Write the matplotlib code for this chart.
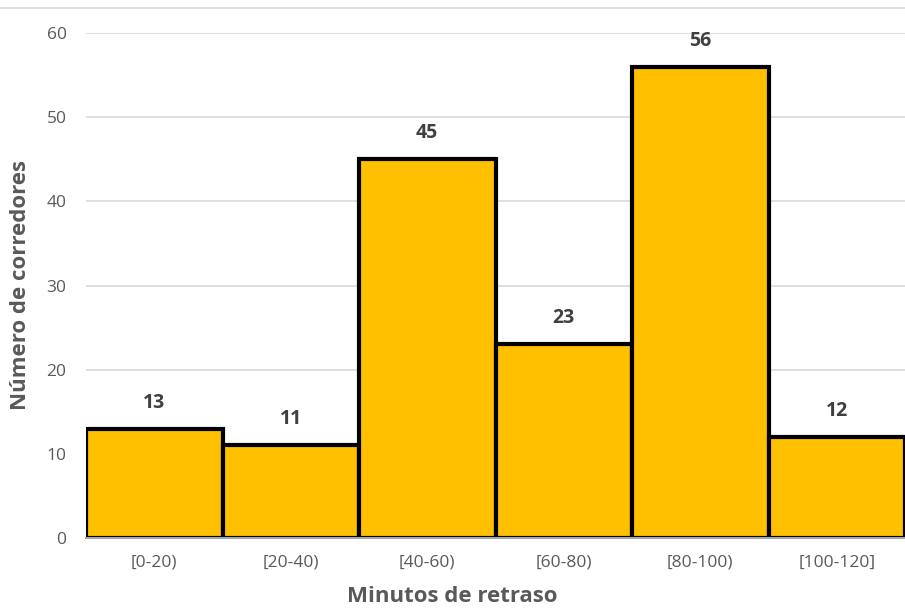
import matplotlib.pyplot as plt
from matplotlib.lines import Line2D

# intervalos de minutos y numero de corredores
intervalos = ['[0-20)', '[20-40)', '[40-60)', '[60-80)', '[80-100)', '[100-120]']
corredores = [13, 11, 45, 23, 56, 12]

plt.rcParams['font.family'] = ['Open Sans', 'DejaVu Sans']

fig = plt.figure(figsize=(9.05, 6.14), dpi=100)
ax = fig.add_axes([86 / 905, 1 - 538 / 614, 819 / 905, 505 / 614])

pos = range(len(intervalos))
ax.bar(pos, corredores, width=1.0, color='#FFC000', edgecolor='black',
       linewidth=3, zorder=3)

for i, v in zip(pos, corredores):
    ax.text(i, v + 1.9, str(v), ha='center', va='bottom', fontsize=14,
            fontweight='bold', color='#404040')

ax.set_xlim(-0.5, len(intervalos) - 0.5)
ax.set_ylim(0, 60)
ax.set_yticks(range(0, 61, 10))
ax.set_xticks(list(pos))
ax.set_xticklabels(intervalos)
ax.tick_params(axis='both', length=0, labelsize=12.5, labelcolor='#595959')
ax.tick_params(axis='x', pad=12)
ax.tick_params(axis='y', pad=14)
ax.grid(axis='y', color='#D9D9D9', linewidth=1.2, zorder=0)

for s in ['top', 'right', 'left']:
    ax.spines[s].set_visible(False)
ax.spines['bottom'].set_color('#A6A6A6')
ax.spines['bottom'].set_linewidth(1.5)
ax.spines['bottom'].set_zorder(4)

ax.set_ylabel('Número de corredores', fontsize=16, fontweight='bold',
              color='#595959')
ax.set_xlabel('Minutos de retraso', fontsize=16, fontweight='bold',
              color='#595959')
ax.yaxis.set_label_coords(21 / 905, 1 - 285 / 614, transform=fig.transFigure)
ax.xaxis.set_label_coords(0.5, 1 - 597 / 614, transform=fig.transFigure)
ax.xaxis.label.set_verticalalignment('center')
ax.yaxis.label.set_verticalalignment('center')

# linea gris superior
fig.add_artist(Line2D([0, 1], [1 - 8 / 614, 1 - 8 / 614], color='#D9D9D9',
                      linewidth=1.2, transform=fig.transFigure))

fig.savefig('out.png', dpi=100)
